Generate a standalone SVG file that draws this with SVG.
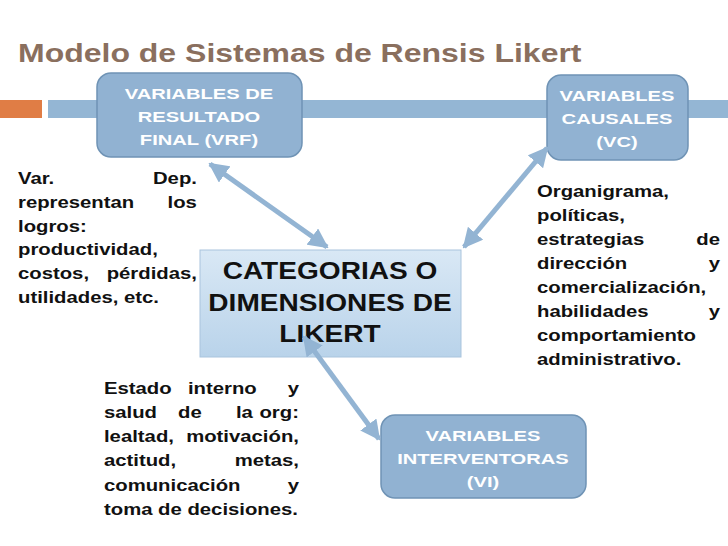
<svg xmlns="http://www.w3.org/2000/svg" width="728" height="546" viewBox="0 0 728 546">
<style>
.t{font-family:"Liberation Sans",Arial,sans-serif;font-weight:bold;font-size:16px;fill:#111}
.b{font-family:"Liberation Sans",Arial,sans-serif;font-weight:bold;font-size:15.5px;fill:#fff;text-anchor:middle}
.box{fill:#91b2d2;stroke:#6f93b5;stroke-width:1.5}
.c{font-family:"Liberation Sans",Arial,sans-serif;font-weight:bold;font-size:24px;fill:#111;text-anchor:middle}
.e{text-anchor:end}
</style>
<defs>
<linearGradient id="g" x1="0" y1="0" x2="0" y2="1"><stop offset="0" stop-color="#d9e8f5"/><stop offset="1" stop-color="#b9d3ea"/></linearGradient>
<marker id="a" viewBox="0 0 10 10" refX="9" refY="5" markerWidth="4" markerHeight="4" orient="auto-start-reverse"><path d="M0,0L10,5L0,10z" fill="#93b4d3"/></marker>
</defs>
<rect width="728" height="546" fill="#fff"/>
<text x="18" y="62" transform="translate(18,0) scale(1.28,1) translate(-18,0)" style="font-family:'Liberation Sans',Arial,sans-serif;font-weight:bold;font-size:25px;fill:#8a6f5e">Modelo de Sistemas de Rensis Likert</text>
<rect x="0" y="100" width="42" height="18" fill="#e07d45"/>
<rect x="48" y="100" width="680" height="18" fill="#94b6d4"/>
<g id="vrf"><rect class="box" x="97" y="73" width="205" height="84" rx="14"/>
<g transform="translate(199,0) scale(1.3,1) translate(-199,0)">
<text class="b" x="199" y="99">VARIABLES DE</text><text class="b" x="199" y="122">RESULTADO</text><text class="b" x="199" y="145">FINAL (VRF)</text></g></g>
<g id="vc"><rect class="box" x="547" y="75" width="141" height="85" rx="14"/>
<g transform="translate(617,0) scale(1.3,1) translate(-617,0)">
<text class="b" x="617" y="101">VARIABLES</text><text class="b" x="617" y="124">CAUSALES</text><text class="b" x="617" y="147">(VC)</text></g></g>
<g id="vi"><rect class="box" x="381" y="415" width="205" height="83" rx="14"/>
<g transform="translate(483,0) scale(1.3,1) translate(-483,0)">
<text class="b" x="483" y="441">VARIABLES</text><text class="b" x="483" y="464">INTERVENTORAS</text><text class="b" x="483" y="487">(VI)</text></g></g>
<g id="center"><rect x="200" y="250" width="261" height="107" fill="url(#g)" stroke="#a9c4dd"/>
<g transform="translate(330,0) scale(1.17,1) translate(-330,0)">
<text class="c" x="330" y="279">CATEGORIAS O</text><text class="c" x="330" y="311">DIMENSIONES DE</text><text class="c" x="330" y="342">LIKERT</text></g></g>
<g id="connectors" stroke="#93b4d3" stroke-width="5" fill="none">
<line x1="210" y1="164" x2="327" y2="247" marker-start="url(#a)" marker-end="url(#a)"/>
<line x1="547" y1="148" x2="464" y2="247" marker-start="url(#a)" marker-end="url(#a)"/>
<line x1="304" y1="337" x2="379" y2="439" marker-start="url(#a)" marker-end="url(#a)"/>
</g>
<g id="left" class="t" transform="translate(18,0) scale(1.27,1) translate(-18,0)">
<text x="18" y="184">Var.</text><text class="e" x="158.9" y="184">Dep.</text>
<text x="18" y="208">representan</text><text class="e" x="158.9" y="208">los</text>
<text x="18" y="232">logros:</text>
<text x="18" y="255">productividad,</text>
<text x="18" y="279">costos,</text><text class="e" x="158.9" y="279">pérdidas,</text>
<text x="18" y="303">utilidades, etc.</text>
</g>
<g id="right" class="t" transform="translate(537,0) scale(1.27,1) translate(-537,0)">
<text x="537" y="197">Organigrama,</text>
<text x="537" y="221">políticas,</text>
<text x="537" y="245">estrategias</text><text class="e" x="681.1" y="245">de</text>
<text x="537" y="269">dirección</text><text class="e" x="681.1" y="269">y</text>
<text x="537" y="293">comercialización,</text>
<text x="537" y="317">habilidades</text><text class="e" x="681.1" y="317">y</text>
<text x="537" y="341">comportamiento</text>
<text x="537" y="365">administrativo.</text>
</g>
<g id="bottom" class="t" transform="translate(104,0) scale(1.27,1) translate(-104,0)">
<text x="104" y="394">Estado</text><text x="170.1" y="394">interno</text><text class="e" x="257.5" y="394">y</text>
<text x="104" y="418">salud</text><text x="162.3" y="418">de</text><text x="207.9" y="418">la</text><text class="e" x="257.5" y="418">org:</text>
<text x="104" y="442">lealtad,</text><text class="e" x="257.5" y="442">motivación,</text>
<text x="104" y="466">actitud,</text><text class="e" x="257.5" y="466">metas,</text>
<text x="104" y="491">comunicación</text><text class="e" x="257.5" y="491">y</text>
<text x="104" y="515">toma de decisiones.</text>
</g>
</svg>
